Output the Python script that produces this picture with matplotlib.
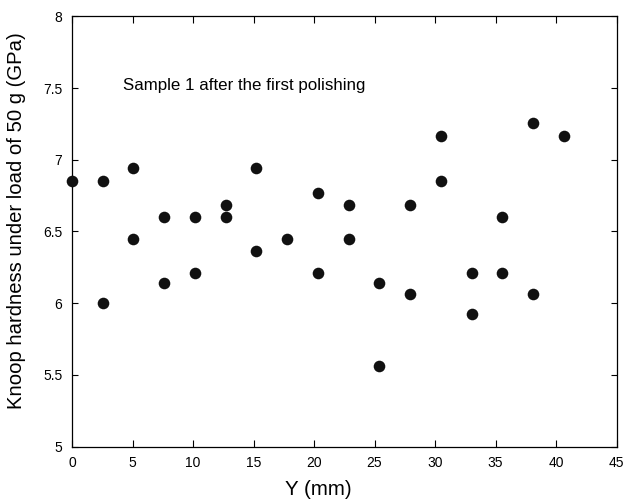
import matplotlib
matplotlib.use("Agg")
import matplotlib.pyplot as plt

plt.rcParams['font.family'] = ['Liberation Sans', 'DejaVu Sans']

x_pos = [0, 2.54, 2.54, 5.08, 5.08, 7.62, 7.62, 10.16, 10.16, 12.7, 12.7,
         15.24, 15.24, 17.78, 20.32, 20.32, 22.86, 22.86, 25.4, 25.4,
         27.94, 27.94, 30.48, 30.48, 33.02, 33.02, 35.56, 35.56, 38.1, 38.1, 40.64]
hardness = [6.85, 6.85, 6.0, 6.94, 6.446, 6.60, 6.14, 6.60, 6.213, 6.685, 6.60,
            6.94, 6.367, 6.446, 6.767, 6.213, 6.685, 6.446, 6.14, 5.563,
            6.685, 6.067, 7.166, 6.852, 6.213, 5.925, 6.60, 6.213, 7.259, 6.067, 7.166]

x_ticks = [0, 5, 10, 15, 20, 25, 30, 35, 40, 45]
y_ticks = [5, 5.5, 6, 6.5, 7, 7.5, 8]
y_tick_labels = ['5', '5.5', '6', '6.5', '7', '7.5', '8']

fig = plt.figure(figsize=(6.26, 5.04), dpi=100)
ax = fig.add_axes([0.115, 0.1137, 0.87, 0.854])
ax.scatter(x_pos, hardness, s=70, color='#111111', zorder=3, clip_on=False, linewidths=0)
ax.set_xlim(0, 45)
ax.set_ylim(5, 8)
ax.set_xticks(x_ticks)
ax.set_xticklabels([str(t) for t in x_ticks])
ax.set_yticks(y_ticks)
ax.set_yticklabels(y_tick_labels)
ax.tick_params(axis='x', direction='in', top=True, length=5, width=0.8, labelsize=10, pad=7)
ax.tick_params(axis='y', direction='in', right=True, length=4, width=0.8, labelsize=10, pad=7)
for s in ax.spines.values():
    s.set_linewidth(0.9)
ax.set_xlabel('Y (mm)', fontsize=14.8)
ax.set_ylabel('Knoop hardness under load of 50 g (GPa)', fontsize=14.6)
ax.xaxis.label.set_va('center')
ax.yaxis.label.set_va('center')
ax.xaxis.set_label_coords(0.453, -0.1006)
ax.yaxis.set_label_coords(-0.1028, 0.525)
ax.text(4.2, 7.52, 'Sample 1 after the first polishing', fontsize=12.2, va='center', ha='left')
fig.savefig('out.png', dpi=100)
